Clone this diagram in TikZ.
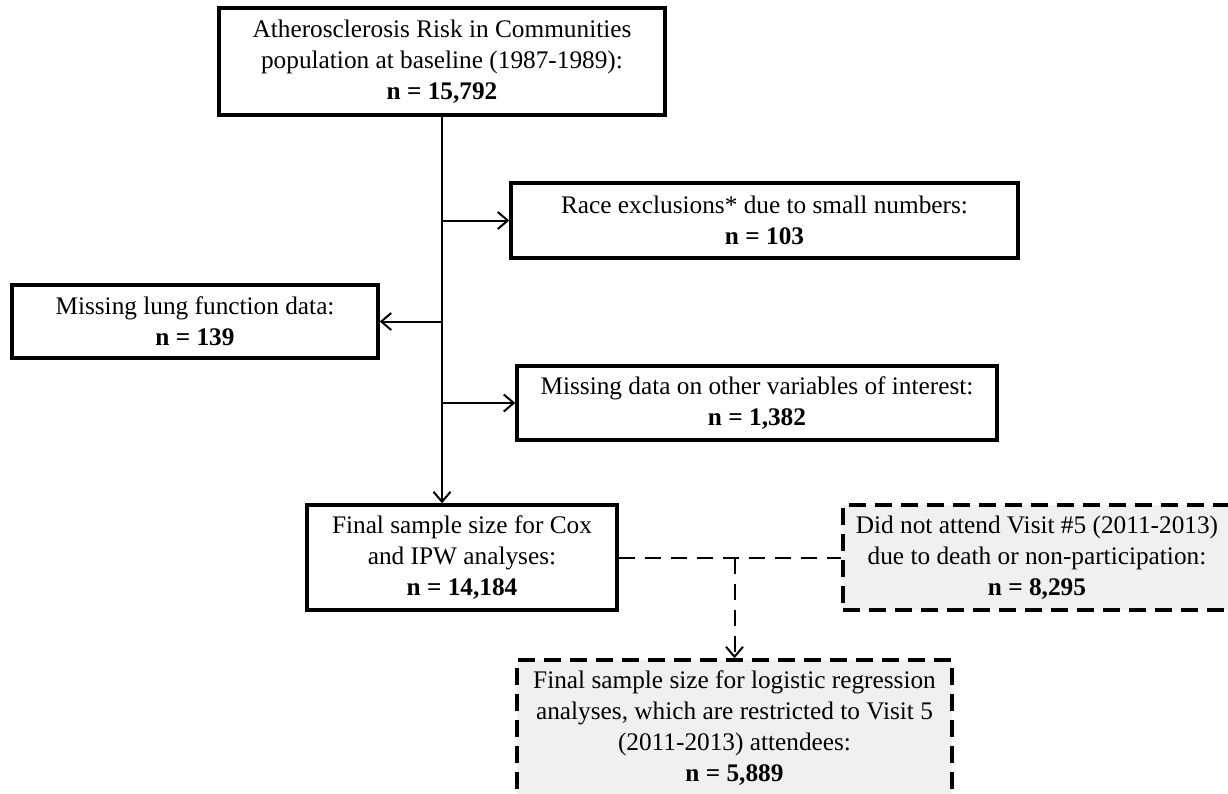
\documentclass[tikz,border=0pt]{standalone}
\usepackage{fontspec}
\setmainfont{Liberation Serif}
\usetikzlibrary{arrows.meta}
\begin{document}
\begin{tikzpicture}[x=1pt,y=-1pt,
  box/.style={draw=black, line width=3.4pt, align=center, inner sep=0pt, font=\fontsize{25.3}{31}\selectfont},
  dbox/.style={box, fill=black!6, dash pattern=on 17pt off 9pt},
  conn/.style={line width=2pt, -{Straight Barb[length=10pt,width=17pt,line width=2pt]}},
  dconn/.style={line width=2pt, dash pattern=on 16pt off 10pt}]
\fill[white] (0,0) rectangle (1228,793);
\useasboundingbox (0,0) rectangle (1228,793);
\clip (0,0) rectangle (1228,793);
\node[box, minimum width=446pt, minimum height=107pt] (top) at (442,61.5)
  {Atherosclerosis Risk in Communities\\population at baseline (1987-1989):\\\textbf{n = 15,792}};
\node[box, minimum width=507pt, minimum height=75pt] (race) at (764.5,220.5)
  {Race exclusions* due to small numbers:\\\textbf{n = 103}};
\node[box, minimum width=366pt, minimum height=73pt] (lung) at (195,321.5)
  {Missing lung function data:\\\textbf{n = 139}};
\node[box, minimum width=480pt, minimum height=74pt] (other) at (757,403)
  {Missing data on other variables of interest:\\\textbf{n = 1,382}};
\node[box, minimum width=310pt, minimum height=105pt] (cox) at (462,557.5)
  {Final sample size for Cox\\and IPW analyses:\\\textbf{n = 14,184}};
\node[dbox, minimum width=388pt, minimum height=105pt] (dna) at (1037,557.5)
  {Did not attend Visit \#5 (2011-2013)\\due to death or non-participation:\\\textbf{n = 8,295}};
\node[dbox, minimum width=435pt, minimum height=136pt] (log) at (734.5,728)
  {Final sample size for logistic regression\\analyses, which are restricted to Visit 5\\(2011-2013) attendees:\\\textbf{n = 5,889}};
\draw[conn] (top.south) -- (top.south |- cox.north);
\draw[conn] (top.south |- race.west) -- (race.west);
\draw[conn] (top.south |- lung.east) -- (lung.east);
\draw[conn] (top.south |- other.west) -- (other.west);
\draw[dconn] (cox.east) -- (dna.west);
\coordinate (j) at (cox.east -| log.north);
\draw[dconn, -{Straight Barb[length=10pt,width=17pt,line width=2pt]}] (j) -- (log.north);
\end{tikzpicture}
\end{document}
